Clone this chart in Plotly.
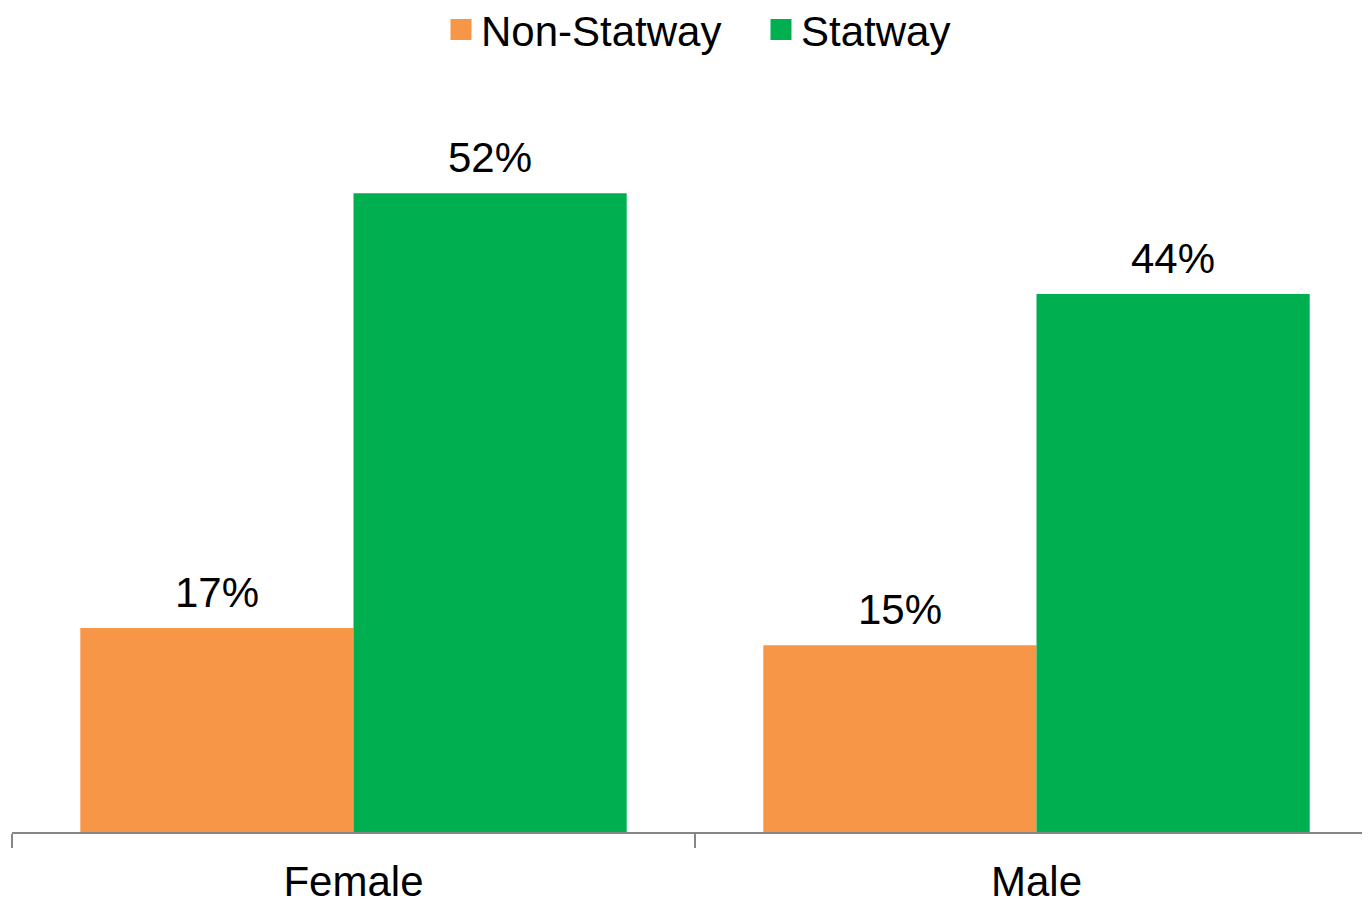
import plotly.graph_objects as go

categories = ["Female", "Male"]
series_names = ["Non-Statway", "Statway"]
non_statway = [16.6, 15.2]
statway = [52.0, 43.8]
labels_non = ["17%", "15%"]
labels_stat = ["52%", "44%"]
colors = ["#F79646", "#00B050"]

FONT = "Liberation Sans, Arial, sans-serif"
FS = 42

fig = go.Figure()
legend_ids = ["legend", "legend2"]
for i, (name, vals, labs, col) in enumerate(zip(series_names, [non_statway, statway], [labels_non, labels_stat], colors)):
    fig.add_trace(go.Bar(
        x=categories, y=vals, name=name, marker=dict(color=col, line=dict(width=0)),
        offsetgroup=str(i), showlegend=False,
    ))
    fig.add_trace(go.Scatter(
        x=[None], y=[None], mode="markers", name=name,
        marker=dict(symbol="square", size=16, color=col, line=dict(color=col, width=5)),
        showlegend=True, legend=legend_ids[i],
    ))

# data labels as annotations above each bar (grouped offsets)
offsets = [-0.2, 0.2]
for j, (vals, labs) in enumerate(zip([non_statway, statway], [labels_non, labels_stat])):
    for k, (v, lab) in enumerate(zip(vals, labs)):
        fig.add_annotation(x=k + offsets[j], y=v, text=lab, showarrow=False,
                           xref="x", yref="y", yanchor="bottom", yshift=10,
                           font=dict(size=FS, color="black", family=FONT))

leg_common = dict(orientation="h", xanchor="left", xref="container",
                  yanchor="middle", yref="container", y=0.976,
                  font=dict(size=FS, family=FONT), itemwidth=30,
                  bgcolor="rgba(0,0,0,0)")

fig.update_layout(
    width=1370, height=904,
    margin=dict(l=4, r=0, t=87, b=80),
    paper_bgcolor="white", plot_bgcolor="white",
    barmode="group", bargap=0.2, bargroupgap=0,
    font=dict(family=FONT, size=FS, color="black"),
    legend=dict(x=(441 - 8) / 1370, **leg_common),
    legend2=dict(x=(761 - 8) / 1370, **leg_common),
    xaxis=dict(type="category", range=[-0.5, 1.5], showline=True, linecolor="#868686", linewidth=2,
               ticks="outside", tickson="boundaries", ticklen=14, tickcolor="#868686", tickwidth=2,
               ticklabelstandoff=12,
               showgrid=False, zeroline=False, tickfont=dict(size=FS, family=FONT)),
    yaxis=dict(range=[0, 60], visible=False, showgrid=False, zeroline=False),
)

fig.write_html("out.html")
